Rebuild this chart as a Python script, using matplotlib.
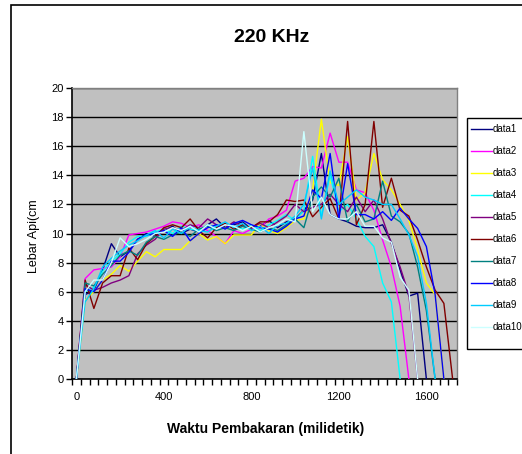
import matplotlib
matplotlib.use("Agg")
import matplotlib.pyplot as plt
from matplotlib.patches import Rectangle
from matplotlib.lines import Line2D

plt.rcParams['font.family'] = ['Liberation Sans', 'DejaVu Sans']

# Sampling times (ms), one sample every 40 ms
times = list(range(0, 1760, 40))

data1 = [0, 5.8, 6.1, 7.5, 9.3, 8.4, 8.8, 9.6, 10.0, 9.8, 10.2, 10.5, 10.0, 10.3, 10.1, 10.6,
         11.0, 10.4, 10.6, 10.8, 10.3, 10.5, 10.9, 10.4, 10.8, 11.0, 11.6, 12.3, 15.5, 11.3,
         11.0, 10.8, 10.5, 10.4, 10.4, 10.6, 9.4, 7.5, 5.7, 5.9, 0]
data2 = [0, 6.9, 7.5, 7.6, 7.7, 8.4, 9.9, 10.0, 10.1, 10.3, 10.5, 10.8, 10.7, 10.4, 10.6, 10.2,
         9.8, 9.3, 10.2, 10.0, 10.3, 10.4, 11.0, 11.2, 11.6, 13.6, 13.8, 14.6, 14.5, 16.9,
         14.9, 14.9, 13.0, 12.8, 11.6, 9.55, 7.7, 5.0, 0]
data3 = [0, 5.4, 6.0, 6.8, 7.2, 7.8, 7.4, 8.1, 8.75, 8.4, 8.9, 8.9, 8.9, 9.5, 10.0, 9.55,
         9.8, 9.3, 9.9, 9.9, 9.9, 10.7, 10.2, 10.0, 10.4, 10.9, 11.0, 13.0, 17.85, 13.5,
         13.3, 16.65, 12.3, 12.8, 15.5, 13.7, 13.0, 12.0, 10.9, 8.9, 6.6, 5.8, 0]
data4 = [0, 6.0, 6.3, 7.4, 8.1, 8.6, 9.4, 9.8, 9.8, 10.1, 10.3, 10.0, 10.5, 10.3, 10.2, 10.6,
         10.4, 10.7, 10.5, 10.3, 10.6, 10.2, 10.6, 10.9, 11.3, 10.9, 11.6, 15.3, 11.2, 14.0,
         11.5, 12.0, 11.0, 9.8, 9.1, 6.6, 5.3, 0]
data5 = [0, 6.5, 6.1, 6.3, 6.6, 6.8, 7.1, 8.6, 9.2, 9.6, 10.3, 10.4, 10.2, 10.6, 10.4, 11.0,
         10.6, 10.4, 10.8, 10.5, 10.4, 10.7, 10.4, 10.8, 11.2, 12.0, 11.5, 11.8, 12.0, 12.7,
         12.0, 11.5, 12.5, 11.5, 12.3, 11.0, 9.3, 7.7, 5.8, 0]
data6 = [0, 6.8, 4.85, 6.6, 7.1, 7.1, 9.0, 8.2, 9.3, 9.8, 10.4, 10.6, 10.4, 11.0, 10.2, 9.7,
         10.4, 10.7, 10.3, 10.6, 10.4, 10.8, 10.8, 11.3, 12.3, 12.2, 12.3, 11.15, 11.8, 12.4,
         11.0, 17.7, 10.6, 12.0, 17.7, 11.8, 13.8, 11.6, 11.2, 9.55, 7.7, 6.1, 5.2, 0]
data7 = [0, 6.6, 6.4, 7.2, 7.8, 8.5, 8.8, 8.5, 9.4, 9.8, 9.6, 9.9, 10.1, 9.8, 10.3, 10.5,
         10.2, 10.4, 10.2, 10.5, 10.3, 10.1, 10.4, 10.2, 10.6, 11.0, 10.4, 12.5, 13.2, 12.5,
         13.8, 10.8, 12.0, 10.8, 11.0, 13.6, 11.2, 10.8, 10.0, 7.7, 4.7, 0]
data8 = [0, 6.2, 6.0, 6.8, 8.1, 8.1, 8.7, 9.6, 9.9, 10.0, 10.2, 9.8, 10.4, 9.5, 10.0, 10.4,
         10.6, 10.3, 10.7, 10.9, 10.6, 10.4, 10.3, 10.1, 10.5, 11.0, 11.2, 13.0, 12.4, 15.5,
         11.0, 14.8, 11.3, 11.3, 11.0, 11.5, 10.9, 11.75, 11.0, 10.35, 9.1, 5.8, 0]
data9 = [0, 5.3, 6.2, 7.7, 8.3, 8.8, 9.2, 9.5, 9.9, 10.2, 9.7, 10.3, 10.0, 10.5, 10.2, 10.1,
         10.5, 10.8, 10.4, 10.7, 10.2, 10.5, 10.0, 10.6, 10.7, 11.2, 12.0, 14.5, 11.0, 14.3,
         12.0, 12.5, 13.0, 12.5, 12.3, 12.0, 12.0, 11.0, 9.9, 8.4, 5.2, 0]
data10 = [0, 6.0, 6.8, 6.8, 8.0, 9.7, 9.1, 9.3, 9.6, 10.0, 10.1, 10.4, 10.2, 10.5, 10.1, 10.6,
          10.3, 10.6, 10.5, 10.2, 10.5, 10.1, 10.4, 10.6, 11.0, 10.8, 17.0, 11.5, 12.5, 11.3,
          11.0, 11.0, 11.5, 10.5, 10.5, 9.7, 9.4, 7.0, 6.1, 0]

series = [data1, data2, data3, data4, data5, data6, data7, data8, data9, data10]
names = ["data1", "data2", "data3", "data4", "data5",
         "data6", "data7", "data8", "data9", "data10"]
colors = ["#000080", "#FF00FF", "#FFFF00", "#00FFFF", "#800080",
          "#800000", "#008080", "#0000FF", "#00CCFF", "#CCFFFF"]

W, H = 522, 454
fig = plt.figure(figsize=(W / 100, H / 100), dpi=100)
fig.patch.set_facecolor("white")

def fx(px):
    return px / W

def fy(py):
    return 1 - py / H

# chart frame
fig.patches.append(Rectangle((fx(11), -0.1), 1.2, fy(5) + 0.1, transform=fig.transFigure,
                             fill=False, edgecolor="black", lw=1.2))

ax = fig.add_axes([fx(72), fy(379), fx(457) - fx(72), fy(88) - fy(379)])
ax.set_facecolor("#C0C0C0")

for vals, col, nm in zip(series, colors, names):
    ax.plot(times[:len(vals)], vals, color=col, lw=1.0, label=nm, zorder=3)

ax.set_xlim(-20, 1740)
ax.set_ylim(0, 20)
ax.set_yticks(range(0, 21, 2))
ax.yaxis.grid(True, color="black", lw=1.0, zorder=1)
ax.set_axisbelow(True)

ax.set_xticks([0, 400, 800, 1200, 1600])
ax.set_xticks([-20 + 40 * k for k in range(45)], minor=True)
ax.tick_params(axis="x", which="major", length=0, pad=9, labelsize=8)
ax.tick_params(axis="x", which="minor", length=4, width=1, color="black")
ax.tick_params(axis="y", length=4, width=1, pad=2, labelsize=8)

for s in ("top", "right"):
    ax.spines[s].set_color("#808080")
    ax.spines[s].set_linewidth(1.0)
for s in ("left", "bottom"):
    ax.spines[s].set_color("black")
    ax.spines[s].set_linewidth(1.2)

fig.text(fx(272), fy(38), "220 KHz", ha="center", va="center",
         fontsize=14, fontweight="bold")
fig.text(fx(34), fy(236), "Lebar Api(cm", ha="center", va="center",
         rotation=90, fontsize=9)
fig.text(fx(266), fy(429), "Waktu Pembakaran (milidetik)", ha="center", va="center",
         fontsize=10, fontweight="bold")

# legend box, running past the right edge
fig.patches.append(Rectangle((fx(467), fy(349)), 0.2, fy(118) - fy(349),
                             transform=fig.transFigure, facecolor="white",
                             edgecolor="black", lw=1.0))
for i, (col, nm) in enumerate(zip(colors, names)):
    yy = fy(129.3 + 21.93 * i)
    fig.lines.append(Line2D([fx(471), fx(492)], [yy, yy], transform=fig.transFigure,
                            color=col, lw=1.0))
    fig.text(fx(493), yy, nm, ha="left", va="center", fontsize=7)

fig.savefig("out.png", dpi=100)
